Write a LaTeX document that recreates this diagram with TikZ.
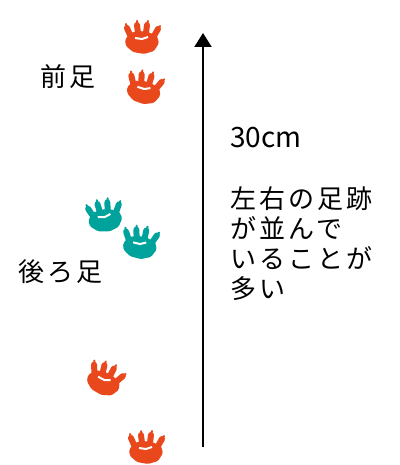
\documentclass[tikz,border=0pt]{standalone}
\usepackage{fontspec}
\newfontfamily\jp[LetterSpace=12]{Noto Sans CJK JP}
\newfontfamily\jpnum{Noto Sans CJK JP}
\usetikzlibrary{arrows.meta}

\definecolor{pawred}{RGB}{232,72,28}
\definecolor{pawteal}{RGB}{0,163,155}

\tikzset{
  paw/.pic={
    % 肉球
    \fill[rounded corners=1.5pt] (-17,0) -- (-12,-7) -- (-3,-9) -- (6,-8) -- (15,-4) -- (17,3)
      -- (12,11) -- (2,14) -- (-9,12) -- (-16,6) -- cycle;
    % 指
    \draw[line width=6pt, line cap=round] (-12,-5) -- (-15,-12) (-4,-7) -- (-5,-15)
      (4,-7) -- (5,-15) (12,-4) -- (16,-11);
    % 爪
    \draw[line width=2pt, line cap=round] (-15,-12) -- (-16,-16) (-5,-15) -- (-5,-19)
      (5,-15) -- (6,-19) (16,-11) -- (18,-14);
    % 白い隙間
    \draw[white, line width=2pt] (-7,-2) -- (0,-1) -- (6,-3);
  },
  jptext/.style={font=\jp\fontsize{26}{30}\selectfont, inner sep=0pt, align=left}
}

\begin{document}
\begin{tikzpicture}[x=1pt, y=-1pt]

  \fill[white] (0,0) rectangle (399,465);
  \useasboundingbox (0,0) rectangle (399,465);

  % 前足
  \pic[pawred] (f1) at (142,40) {paw};
  \pic[pawred, rotate=-10] (f2) at (144,90) {paw};
  \node[jptext, anchor=west] (front) at (40,77) {前足};

  % 後ろ足
  \pic[pawteal, rotate=10] (h1) at (105,218) {paw};
  \pic[pawteal, rotate=-5] (h2) at (140,245) {paw};
  \node[jptext, anchor=west] (hind) at (18,272) {後ろ足};

  % 次の一歩
  \pic[pawred, rotate=-20] (f3) at (104,381) {paw};
  \pic[pawred] (f4) at (146,450) {paw};

  % 進行方向の矢印
  \coordinate (base) at (203,447);
  \coordinate (tip) at (203,33);
  \draw[-{Triangle[width=17pt, length=14pt]}, line width=2pt] (base) -- (tip);

  % 説明
  \node[anchor=west, inner sep=0pt, font=\jpnum\fontsize{28}{30}\selectfont] (dist) at (230,138) {30cm};
  \node[jptext, anchor=north west] (note) at (230,186) {左右の足跡\\が並んで\\いることが\\多い};

\end{tikzpicture}
\end{document}
